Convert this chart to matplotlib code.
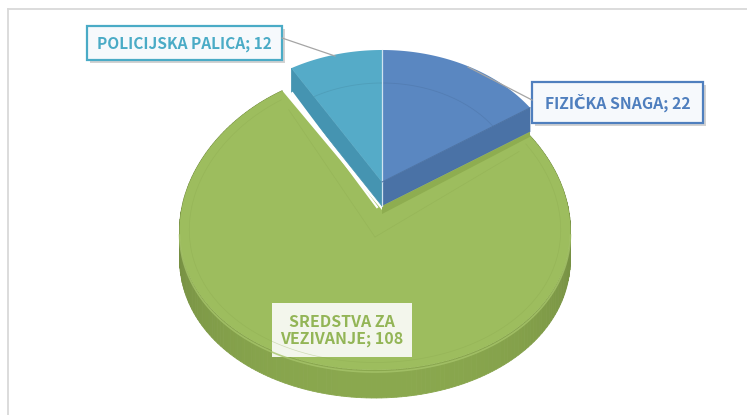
import numpy as np
import matplotlib.pyplot as plt
import matplotlib.colors as mcolors
from matplotlib.patches import Polygon, Rectangle
from matplotlib import patheffects

# data
labels = ["FIZIČKA SNAGA", "SREDSTVA ZA\nVEZIVANJE", "POLICIJSKA PALICA"]
values = [22, 108, 12]

top_colors = ["#5A87C1", "#9DBD5E", "#55ABC8"]
face_colors = ["#4A72A6", "#8AA84E", "#4594B1"]
text_colors = ["#4F7FBE", "#93B556", "#4AABC6"]

# 3d look, in image pixels: centre, semi axes, depth and perspective of every slice
CENTRES = [(382, 182), (375, 220), (382, 182)]
RADII = [(179, 132), (195, 150), (179, 132)]
DEPTH = [24, 28, 24]
PERSP = [0.0, 0.07, 0.0]
TIP = [(382, 182), (382, 210), (382, 182)]  # where the wedge point shows

# label boxes (x0, y0, x1, y1), text width, leader lines
BOXES = [(532, 82, 703, 123), (272, 303, 412, 357), (87, 26, 282, 60)]
TEXT_W = [146, 123, 175]
BORDERED = [True, False, True]
LEADERS = [((532, 100), (468, 67)), None, ((282, 38), (335, 56))]

plt.rcParams['font.family'] = ['Noto Sans CJK SC', 'DejaVu Sans']

fig = plt.figure(figsize=(7.47, 4.15), dpi=100)
ax = fig.add_axes([0, 0, 1, 1])
ax.set_xlim(0, 747)
ax.set_ylim(415, 0)
ax.axis('off')

# chart frame (top and left edges show)
ax.plot([7.5, 760], [9.5, 9.5], color='#D9D9D9', lw=1.3)
ax.plot([7.5, 7.5], [9.5, 430], color='#D9D9D9', lw=1.3)

total = sum(values)
ends = np.cumsum(values) / total * 360
starts = ends - np.array(values) / total * 360


def pt(i, th, r=1.0, dz=0.0):
    cx, cy = CENTRES[i]
    a, b = RADII[i]
    t = np.radians(th)
    return (cx + r * a * np.sin(t) * (1 - PERSP[i] * np.cos(t)),
            cy - r * b * np.cos(t) + dz)


def arc(i, t0, t1, r=1.0, dz=0.0, n=120):
    th = np.linspace(t0, t1, n)
    return [pt(i, t, r, dz) for t in th]


def darker(c, f):
    rgb = np.array(mcolors.to_rgb(c))
    return tuple(np.clip(rgb * f, 0, 1))


# green slice: outer wall then top
g = 1
th = np.linspace(starts[g], ends[g], 200)
for t0, t1 in zip(th[:-1], th[1:]):
    tm = 0.5 * (t0 + t1)
    light = max(0.0, -np.cos(np.radians(tm)))
    col = darker(face_colors[g], 0.84 + 0.16 * light)
    quad = [pt(g, t0), pt(g, t1), pt(g, t1, dz=DEPTH[g]), pt(g, t0, dz=DEPTH[g])]
    ax.add_patch(Polygon(quad, closed=True, fc=col, ec=col, lw=0.6))
# light rim edge just under the top
ax.plot(*zip(*arc(g, 95, 265, dz=2)), color='#A6C46A', lw=1.2, alpha=0.8)
ax.add_patch(Polygon([TIP[g]] + arc(g, starts[g], ends[g]), closed=True,
                     fc=top_colors[g], ec='none'))
ax.plot(*zip(*arc(g, starts[g] + 2, ends[g] - 2, r=0.95)), color='#8AA84E', lw=0.5, alpha=0.35)
# faint inner cut lines of the green wedge
for t in (starts[g], ends[g]):
    p = pt(g, t, r=0.93)
    ax.plot([p[0], CENTRES[g][0]], [p[1] + 10, CENTRES[g][1] + 17], color='#8AA84E',
            lw=0.5, alpha=0.35)

# cut faces of blue (its end) and teal (its start)
for i, t in [(0, ends[0]), (2, starts[2])]:
    c = CENTRES[i]
    face = [c, pt(i, t), pt(i, t, dz=DEPTH[i]), (c[0], c[1] + DEPTH[i])]
    ax.add_patch(Polygon(face, closed=True, fc=face_colors[i], ec=face_colors[i], lw=0.5))

# darker green strip under the blue cut face
c = CENTRES[0]
p = pt(0, ends[0], dz=DEPTH[0])
ax.add_patch(Polygon([(c[0], c[1] + DEPTH[0]), p, (p[0], p[1] + 5), (c[0], c[1] + DEPTH[0] + 8)],
                     closed=True, fc='#8EAD50', ec='none'))

# white seam along teal face
c = CENTRES[2]
p = pt(2, starts[2], dz=DEPTH[2])
ax.plot([p[0] + 1, c[0] - 5], [p[1] + 1, c[1] + DEPTH[2] + 1], color='white', lw=1.6)

# tops of blue and teal
for i in [0, 2]:
    ax.add_patch(Polygon([CENTRES[i]] + arc(i, starts[i], ends[i]), closed=True,
                         fc=top_colors[i], ec='none'))
    ax.plot(*zip(*arc(i, starts[i], ends[i], r=0.75)), color=darker(top_colors[i], 0.88),
            lw=0.6, alpha=0.6)

# highlight edges
c = CENTRES[0]
ax.plot([c[0], pt(0, 0)[0]], [c[1], pt(0, 0)[1]], color='#CFE3F0', lw=0.9)
ax.plot([c[0], c[0]], [c[1], c[1] + DEPTH[0]], color='#CFE3F0', lw=0.9)
p = pt(0, ends[0])
ax.plot([c[0], p[0]], [c[1], p[1]], color=darker(top_colors[0], 0.85), lw=0.7)

# labels
fig.canvas.draw()
renderer = fig.canvas.get_renderer()
for i in range(len(values)):
    x0, y0, x1, y1 = BOXES[i]
    if LEADERS[i] is not None:
        (ax_, ay_), (bx_, by_) = LEADERS[i]
        ax.plot([ax_, bx_], [ay_, by_], color='#A5A5A5', lw=0.9)
    if BORDERED[i]:
        box = Rectangle((x0, y0), x1 - x0, y1 - y0, fc='#F6F9FC',
                        ec=text_colors[i], lw=1.6)
        box.set_path_effects([patheffects.withSimplePatchShadow(
            offset=(2, -2), shadow_rgbFace='#7F7F7F', alpha=0.35)])
    else:
        box = Rectangle((x0, y0), x1 - x0, y1 - y0, fc='#F3F6EC', ec='none')
    ax.add_patch(box)
    t = ax.text((x0 + x1) / 2, (y0 + y1) / 2 + 0.5, f"{labels[i]}; {values[i]}",
                ha='center', va='center', ma='center', fontsize=12,
                fontweight='bold', color=text_colors[i], linespacing=1.0)
    w = t.get_window_extent(renderer).width
    t.set_fontsize(12 * TEXT_W[i] / w)

fig.savefig('out.png', dpi=100)
